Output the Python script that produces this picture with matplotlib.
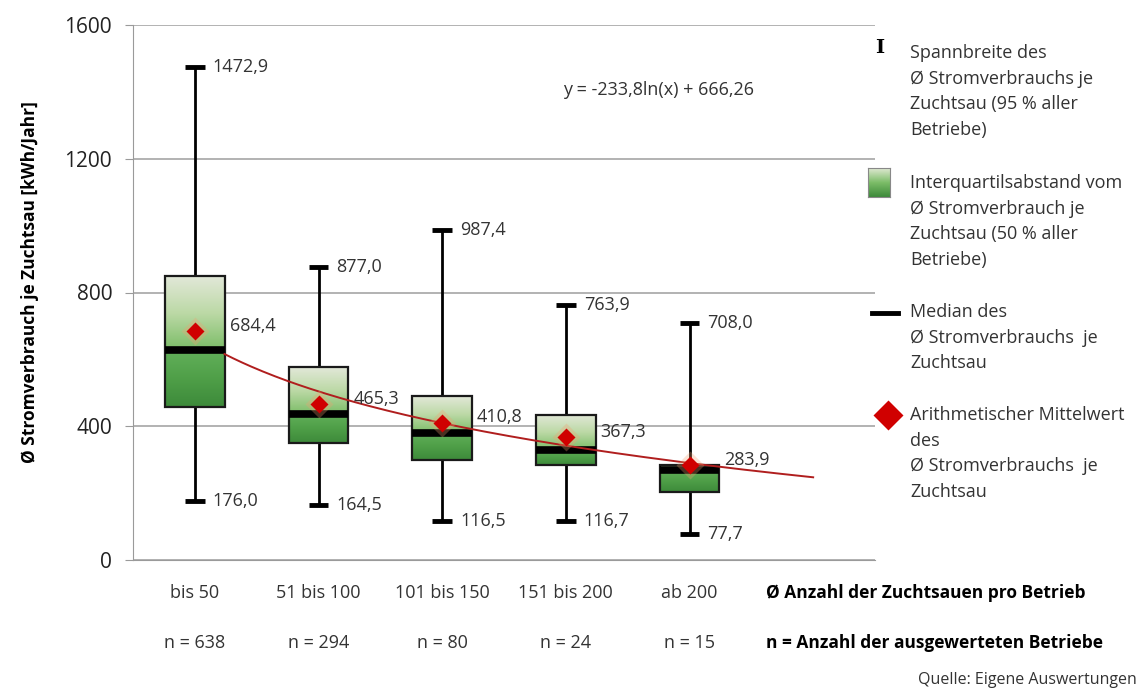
import numpy as np
import matplotlib.pyplot as plt
from matplotlib.lines import Line2D
from matplotlib.colors import LinearSegmentedColormap

plt.rcParams['font.family'] = ['Open Sans', 'DejaVu Sans']

categories = ['bis 50', '51 bis 100', '101 bis 150', '151 bis 200', 'ab 200']
n_labels = ['n = 638', 'n = 294', 'n = 80', 'n = 24', 'n = 15']
whisker_max = [1472.9, 877.0, 987.4, 763.9, 708.0]
whisker_min = [176.0, 164.5, 116.5, 116.7, 77.7]
q3 = [849, 577, 490, 434, 284]
q1 = [458, 350, 299, 284, 203]
median = [628, 437, 380, 329, 269]
mean = [684.4, 465.3, 410.8, 367.3, 283.9]
trend_a, trend_b = -233.8, 666.26

W, H = 1140, 691
fig = plt.figure(figsize=(W / 100, H / 100), dpi=100)
ax = fig.add_axes([133 / W, 1 - 560 / H, (875 - 133) / W, (560 - 25) / H])

upper_cmap = LinearSegmentedColormap.from_list('up', ['#e2e8d8', '#bcd9a6', '#7cbd68'])
lower_cmap = LinearSegmentedColormap.from_list('lo', ['#62b05a', '#4f9f48', '#3d8a3a'])
grad = np.linspace(0, 1, 100).reshape(-1, 1)
fs = 13

hw = 0.24
for i in range(len(categories)):
    # whiskers + caps
    ax.plot([i, i], [whisker_min[i], whisker_max[i]], color='black', lw=2, zorder=2)
    for v in (whisker_min[i], whisker_max[i]):
        ax.plot([i - 0.08, i + 0.08], [v, v], color='black', lw=3.5, zorder=2,
                solid_capstyle='butt')
    # box: gradient upper and lower part
    ax.imshow(grad, cmap=upper_cmap, aspect='auto', origin='upper',
              extent=(i - hw, i + hw, median[i], q3[i]), zorder=3)
    ax.imshow(grad, cmap=lower_cmap, aspect='auto', origin='upper',
              extent=(i - hw, i + hw, q1[i], median[i]), zorder=3)
    ax.add_patch(plt.Rectangle((i - hw, q1[i]), 2 * hw, q3[i] - q1[i], fill=False,
                               ec='#1a1a1a', lw=1.6, zorder=4))
    ax.plot([i - hw, i + hw], [median[i], median[i]], color='black', lw=5.5,
            solid_capstyle='butt', zorder=4)
    # labels
    for v in (whisker_max[i], whisker_min[i]):
        ax.annotate(f'{v:.1f}'.replace('.', ','), (i, v), xytext=(13, 0),
                    textcoords='offset points', ha='left', va='center',
                    fontsize=fs, color='#333333')
    ax.annotate(f'{mean[i]:.1f}'.replace('.', ','), (i, mean[i]), xytext=(25, 4),
                textcoords='offset points', ha='left', va='center',
                fontsize=fs, color='#333333', zorder=6)

# logarithmic trend line
p = np.linspace(hw, 5.0, 200)
ax.plot(p, trend_a * np.log(p + 1) + trend_b, color='#b01e1e', lw=1.4, zorder=5)

# means
ax.plot(range(len(mean)), mean, ls='none', marker='D', ms=14, color='#f4a070',
        alpha=0.3, mec='none', zorder=6)
ax.plot(range(len(mean)), mean, ls='none', marker='D', ms=9.5, color='#d00000',
        mec='none', zorder=7)

ax.text(2.98, 1405, 'y = -233,8ln(x) + 666,26', fontsize=fs, color='#333333',
        ha='left', va='center')

ax.set_xlim(-0.5, 5.5)
ax.set_ylim(0, 1600)
ax.set_yticks([0, 400, 800, 1200, 1600])
ax.set_xticks([])
ax.grid(axis='y', color='#a6a6a6', lw=1.2)
ax.set_axisbelow(True)
for s in ('top', 'right'):
    ax.spines[s].set_visible(False)
for s in ('left', 'bottom'):
    ax.spines[s].set_color('#9a9a9a')
ax.tick_params(axis='y', length=6, color='#9a9a9a', labelsize=15, pad=9,
               labelcolor='#222222')

# category labels below axis
xt = ax.get_xaxis_transform()
for i, (c, n) in enumerate(zip(categories, n_labels)):
    ax.text(i, -0.0617, c, transform=xt, ha='center', va='center', fontsize=fs,
            color='#333333', clip_on=False)
    ax.text(i, -0.155, n, transform=xt, ha='center', va='center', fontsize=fs,
            color='#333333', clip_on=False)
ax.text(4.615, -0.0617, 'Ø Anzahl der Zuchtsauen pro Betrieb', transform=xt,
        ha='left', va='center', fontsize=12.5, fontweight='bold', clip_on=False)
ax.text(4.615, -0.155, 'n = Anzahl der ausgewerteten Betriebe', transform=xt,
        ha='left', va='center', fontsize=12.5, fontweight='bold', clip_on=False)

fig.text(30 / W, 1 - 282 / H, 'Ø Stromverbrauch je Zuchtsau [kWh/Jahr]', rotation=90,
         ha='center', va='center', fontsize=12.5, fontweight='bold')
fig.text(1137 / W, 1 - 680 / H, 'Quelle: Eigene Auswertungen', ha='right',
         va='center', fontsize=11.5, color='#333333')

# legend on the right
legend_items = [
    (53, ['Spannbreite des', 'Ø Stromverbrauchs je', 'Zuchtsau (95 % aller', 'Betriebe)']),
    (183, ['Interquartilsabstand vom', 'Ø Stromverbrauch je', 'Zuchtsau (50 % aller', 'Betriebe)']),
    (312, ['Median des', 'Ø Stromverbrauchs  je', 'Zuchtsau']),
    (415, ['Arithmetischer Mittelwert', 'des', 'Ø Stromverbrauchs  je', 'Zuchtsau']),
]
for y0, lines in legend_items:
    for k, line in enumerate(lines):
        fig.text(910 / W, 1 - (y0 + k * 25.7) / H, line, ha='left', va='center',
                 fontsize=fs, color='#333333')

fig.text(880 / W, 1 - 48 / H, 'I', ha='center', va='center', fontsize=14,
         fontweight='bold', family='DejaVu Serif')
lax = fig.add_axes([868 / W, 1 - 197 / H, 22 / W, 29 / H])
lax.imshow(grad, cmap=LinearSegmentedColormap.from_list('lg', ['#dfe8d2', '#7cbd68', '#3d8a3a']),
           aspect='auto')
lax.set_xticks([])
lax.set_yticks([])
for s in lax.spines.values():
    s.set_color('#888888')
fig.add_artist(Line2D([872 / W, 898 / W], [1 - 313 / H, 1 - 313 / H], color='black',
                      lw=3.5, transform=fig.transFigure))
fig.add_artist(Line2D([888 / W], [1 - 415 / H], marker='D', ms=15, color='#d00000',
                      mec='none', ls='none', transform=fig.transFigure))

fig.savefig('out.png', dpi=100)
